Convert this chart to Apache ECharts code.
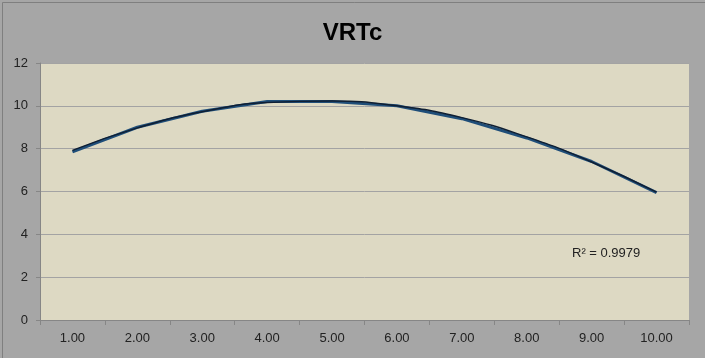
<!DOCTYPE html>
<html>
<head>
<meta charset="utf-8">
<script src="https://cdn.jsdelivr.net/npm/echarts@6/dist/echarts.min.js"></script>
<style>
html,body{margin:0;padding:0;background:#a6a6a6;}
#c{width:705px;height:358px;}
</style>
</head>
<body>
<div id="c"></div>
<script>
var categories = ['1.00','2.00','3.00','4.00','5.00','6.00','7.00','8.00','9.00','10.00'];
var vrtcValues = [7.85, 9.0, 9.75, 10.2, 10.2, 10.0, 9.4, 8.5, 7.4, 5.95];
var trendValues = [7.92, 8.97, 9.72, 10.15, 10.22, 10.0, 9.45, 8.55, 7.38, 5.97];
var yTicks = [0, 2, 4, 6, 8, 10, 12];
var titleText = 'VRTc';
var r2Text = 'R² = 0.9979';

var chart = echarts.init(document.getElementById('c'));
chart.setOption({
  backgroundColor: '#a6a6a6',
  animation: false,
  title: {
    text: titleText,
    left: 'center',
    top: 16,
    textStyle: {fontFamily: 'Liberation Sans Narrow, Liberation Sans', fontWeight: 'bold', fontSize: 24, color: '#000'}
  },
  grid: {left: 40, right: 16, top: 63, bottom: 38, show: true, backgroundColor: '#ddd9c3', borderWidth: 0},
  xAxis: {
    type: 'category',
    data: categories,
    boundaryGap: true,
    axisLine: {lineStyle: {color: '#868686'}},
    axisTick: {show: true, length: 5, lineStyle: {color: '#868686'}},
    axisLabel: {color: '#222', fontFamily: 'Liberation Sans', fontSize: 13, margin: 12}
  },
  yAxis: {
    type: 'value',
    min: yTicks[0],
    max: yTicks[yTicks.length - 1],
    interval: 2,
    axisLine: {show: true, lineStyle: {color: '#868686'}},
    axisTick: {show: true, length: 4, lineStyle: {color: '#868686'}},
    splitLine: {lineStyle: {color: '#a3a3a3'}},
    axisLabel: {color: '#222', fontFamily: 'Liberation Sans', fontSize: 13, margin: 12}
  },
  series: [
    {
      type: 'line', data: vrtcValues, symbol: 'none',
      lineStyle: {color: '#1f4e79', width: 3}
    },
    {
      type: 'line', data: trendValues, symbol: 'none', smooth: true,
      lineStyle: {color: '#0f1f33', width: 1.5}
    }
  ],
  graphic: [
    {type: 'rect', left: 0, top: 0, shape: {width: 704, height: 357}, style: {fill: 'none', stroke: '#7f7f7f', lineWidth: 1}, silent: true},
    {type: 'text', left: 572, top: 247, style: {text: r2Text, font: '13px Liberation Sans', fill: '#222'}}
  ]
});
</script>
</body>
</html>
